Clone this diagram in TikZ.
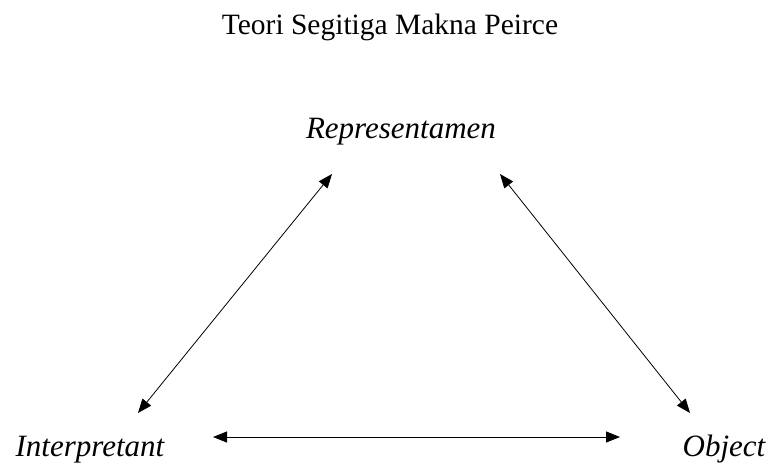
\documentclass[tikz,border=0pt]{standalone}
\usepackage{fontspec}
\setmainfont{Liberation Serif}
\usetikzlibrary{arrows.meta}

\begin{document}
\begin{tikzpicture}[x=1pt,y=1pt,
    lbl/.style={inner sep=0pt,anchor=base,font=\fontsize{31}{36}\selectfont\itshape},
    arr/.style={{Triangle[length=14pt,width=11pt]}-{Triangle[length=14pt,width=11pt]},line width=0.8pt}]
      \useasboundingbox (0,0) rectangle (768,464);
      \node[inner sep=0pt,anchor=base,font=\fontsize{29.5}{34}\selectfont] (title) at (390,429) {Teori Segitiga Makna Peirce};
      \node[lbl] (rep) at (401,325) {Representamen};
      \node[lbl] (int) at (90,8) {Interpretant};
      \node[lbl] (obj) at (724,8) {Object};
      \draw[arr] ([xshift=-69pt,yshift=-35pt]rep.base) -- ([xshift=48pt,yshift=43pt]int.base);
      \draw[arr] ([xshift=99pt,yshift=-35pt]rep.base) -- ([xshift=-34pt,yshift=43pt]obj.base);
      \draw[arr] ([xshift=123pt,yshift=19pt]int.base) -- ([xshift=-104pt,yshift=19pt]obj.base);
    \end{tikzpicture}
\end{document}
